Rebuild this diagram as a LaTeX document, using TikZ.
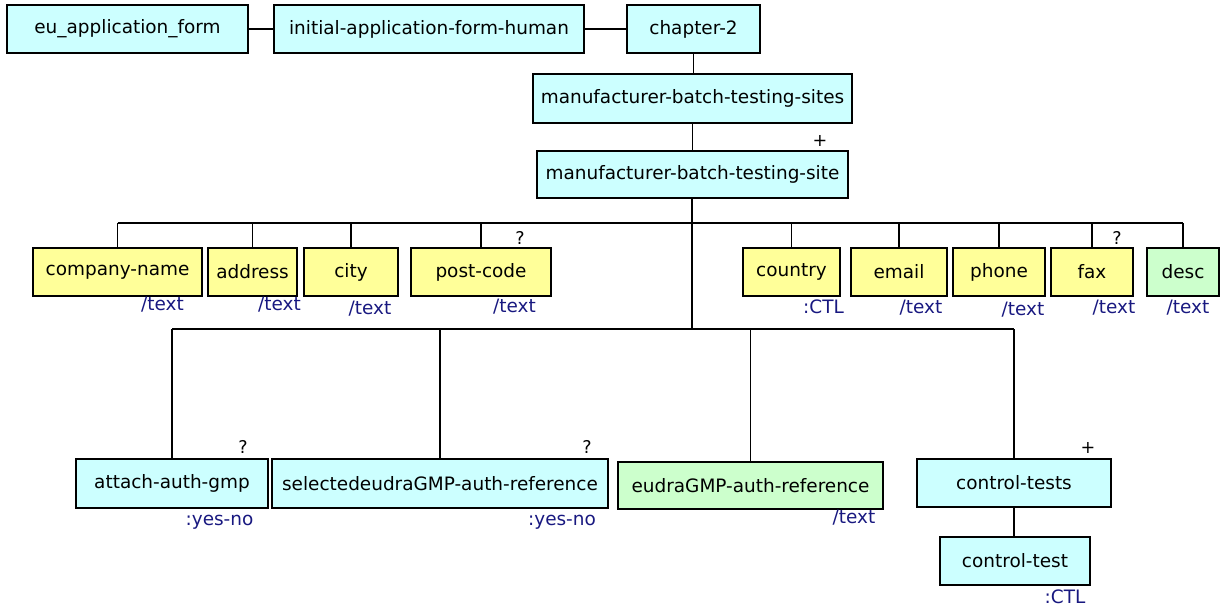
\documentclass[tikz,border=0pt]{standalone}
\usepackage{fontspec}
\setmainfont{DejaVu Sans}
\usepackage{xcolor}
\usepackage{tikz}
\usetikzlibrary{positioning}
\definecolor{schemaCyan}{RGB}{204,255,255}
\definecolor{schemaYellow}{RGB}{255,255,153}
\definecolor{schemaGreen}{RGB}{204,255,204}
\definecolor{typeNavy}{RGB}{24,24,128}
\newcommand{\typText}{/text}
\newcommand{\typCtl}{:CTL}
\newcommand{\typYesNo}{:yes-no}
\tikzset{
  elem/.style={draw, line width=0.85pt, inner sep=0pt, minimum height=0.96cm, font=\fontsize{10.5}{12}\selectfont},
  elemCyan/.style={elem, fill=schemaCyan},
  elemYellow/.style={elem, fill=schemaYellow},
  elemGreen/.style={elem, fill=schemaGreen},
  typ/.style={text=typeNavy, inner sep=0pt, font=\fontsize{10.5}{12}\selectfont},
  card/.style={inner sep=0pt, font=\fontsize{10}{12}\selectfont},
  link/.style={line width=0.75pt},
  bus/.style={line width=1pt},
  trunk/.style={line width=1.5pt}
}

\begin{document}
\begin{tikzpicture}[x=0.02cm, y=-0.02cm]
\useasboundingbox (0,0) rectangle (1224,610);

% top chain
\node[elemCyan, minimum width=4.82cm] (eu) at (127.5,29) {eu\_application\_form};
\node[elemCyan, minimum width=6.2cm] (initial) at (429,29) {initial-application-form-human};
\node[elemCyan, minimum width=2.66cm] (chapter) at (693.5,29) {chapter-2};
\node[elemCyan, minimum width=6.38cm, minimum height=0.98cm] (sites) at (692.5,98.5) {manufacturer-batch-testing-sites};
\node[elemCyan, minimum width=6.22cm, minimum height=0.94cm] (site) at (692.5,174.5) {manufacturer-batch-testing-site};
\node[card] (siteCard) at (820,141) {+};

\draw[link] (eu) -- (initial);
\draw[link] (initial) -- (chapter);
\draw[bus] (chapter.south) -- (chapter.south |- sites.north);
\draw[bus] (sites.south) -- (sites.south |- site.north);

\coordinate (busTop) at (692,223);
\coordinate (busLow) at (692,329);
\draw[trunk] (busLow |- site.south) -- (busLow);

% simple children
\foreach \n/\x/\w/\t/\lx/\ly in {company-name/117.5/3.38/\typText/162.5/305,
    address/252.5/1.78/\typText/279.5/305, city/351/1.88/\typText/370/309,
    post-code/481/2.8/\typText/514.5/307, country/791.5/1.94/\typCtl/823.5/307,
    email/899/1.92/\typText/921/308, phone/999/1.84/\typText/1023/310,
    fax/1092/1.64/\typText/1114/308}
{
    \node[elemYellow, minimum width=\w cm] (\n) at (\x,272) {\n};
    \node[typ] (\n-type) at (\lx,\ly) {\t};
    \draw[link] (\n.north) -- (\n.north |- busTop);
}
\node[elemGreen, minimum width=1.44cm] (desc) at (1183,272) {desc};
\node[typ] (desc-type) at (1188,308) {\typText};
\draw[link] (desc.north) -- (desc.north |- busTop);
\draw[bus] (company-name.north |- busTop) -- (desc.north |- busTop);
\node[card] (postCard) at (520,238) {?};
\node[card] (faxCard) at (1117,238) {?};

% lower children
\node[elemCyan, minimum width=3.84cm, minimum height=0.98cm] (attach) at (172,483.5) {attach-auth-gmp};
\node[elemCyan, minimum width=6.72cm, minimum height=0.98cm] (selected) at (440,483.5) {selectedeudraGMP-auth-reference};
\node[elemGreen, minimum width=5.3cm, minimum height=0.94cm] (eudra) at (750.5,485.5) {eudraGMP-auth-reference};
\node[elemCyan, minimum width=3.88cm] (ctests) at (1014,483) {control-tests};
\node[elemCyan, minimum width=3.0cm] (ctest) at (1015,561) {control-test};

\node[card] (attachCard) at (243,447) {?};
\node[card] (selectedCard) at (587,447) {?};
\node[card] (ctestsCard) at (1088,448) {+};
\node[typ] (attach-type) at (219.5,522) {\typYesNo};
\node[typ] (selected-type) at (562,522) {\typYesNo};
\node[typ] (eudra-type) at (854,518) {\typText};
\node[typ] (ctest-type) at (1065,597) {\typCtl};

\draw[bus] (attach.north |- busLow) -- (ctests.north |- busLow);
\foreach \n in {attach,selected,eudra,ctests}
{
    \draw[link] (\n.north) -- (\n.north |- busLow);
}
\draw[link] (ctests.south) -- (ctests.south |- ctest.north);
\end{tikzpicture}
\end{document}
